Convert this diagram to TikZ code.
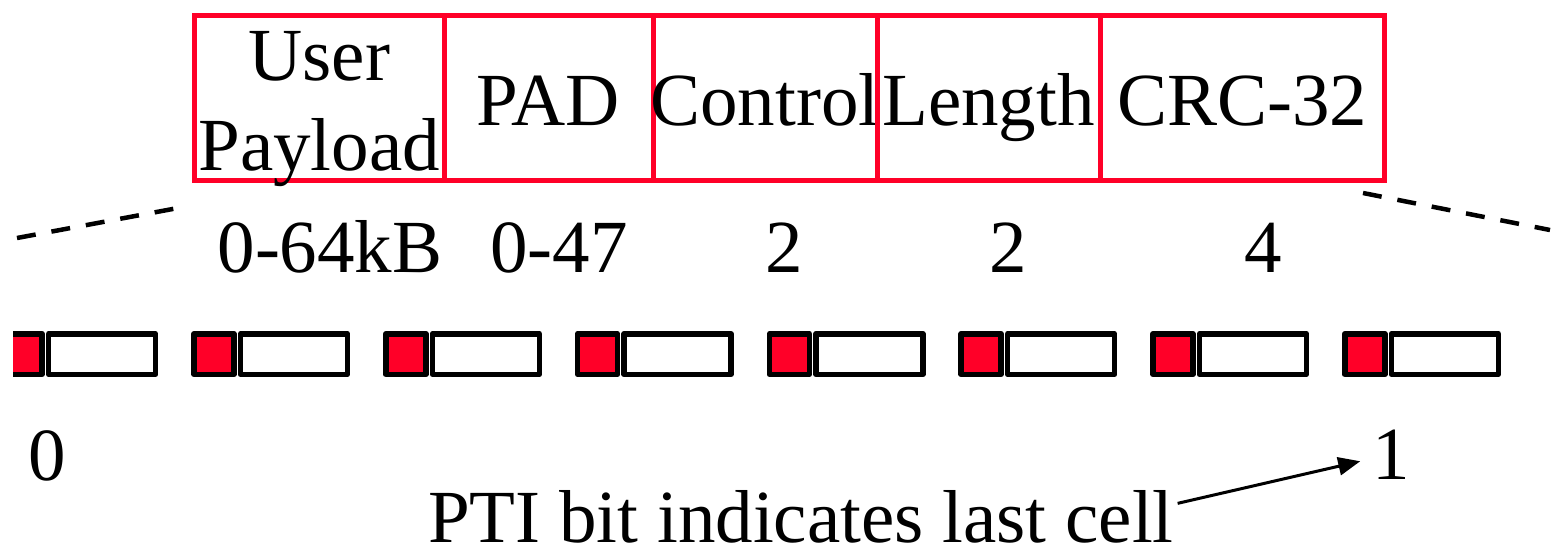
\documentclass[tikz,border=0pt]{standalone}
\usepackage{fontspec}
\setmainfont{Liberation Serif}
\usetikzlibrary{arrows.meta}
\definecolor{ptired}{RGB}{255,0,40}
\begin{document}
\begin{tikzpicture}[x=1pt,y=-1pt,
  every node/.style={inner sep=0pt, outer sep=0pt, font=\fontsize{75}{90}\selectfont},
  field/.style={draw=ptired, line width=5pt, minimum height=165pt, text height=54pt, text depth=0pt},
  ptibit/.style={draw=black, fill=ptired, line width=5.5pt, line join=round, minimum width=40pt, minimum height=40.5pt},
  cellbody/.style={draw=black, fill=white, line width=5.5pt, line join=round, minimum width=107pt, minimum height=40.5pt},
  numtext/.style={anchor=base},
  dashline/.style={line width=4.5pt, dash pattern=on 19pt off 16pt},
  ptiarrow/.style={line width=3pt, -{Triangle[length=22pt,width=18pt]}}
]
\fill[white] (0,0) rectangle (1561,550);
\useasboundingbox (0,0) rectangle (1561,550);

% frame fields
\node[field, minimum width=249.5pt, align=center, text height=144pt] (up) at (319.25,98) {User\\Payload};
\node[field, minimum width=209pt] (pad) at (548.5,98) {\makebox[0pt]{PAD}};
\node[field, minimum width=224pt] (ctl) at (765,98) {\makebox[0pt]{Control}};
\node[field, minimum width=223pt] (len) at (988.5,98) {\makebox[0pt]{Length}};
\node[field, minimum width=284.5pt] (crc) at (1242.25,98) {\makebox[0pt]{CRC-32}};

% sizes
\node[numtext] (szup) at (330,272) {0-64kB};
\node[numtext] (szpad) at (559,272) {0-47};
\node[numtext] (szctl) at (784,272) {2};
\node[numtext] (szlen) at (1008,272) {2};
\node[numtext] (szcrc) at (1263,272) {4};

% dashed expansion lines
\coordinate (dla) at (17,238);
\coordinate (dlb) at (178,208);
\coordinate (dra) at (1363,193);
\coordinate (drb) at (1550,230);
\draw[dashline] (dla) -- (dlb);
\draw[dashline] (dra) -- (drb);

% cells
\begin{scope}
\clip (13,0) rectangle (1561,550);
\foreach \k in {0,...,7} {
  \pgfmathsetmacro\xo{-0.6+191.8*\k}
  \node[ptibit] (b\k) at (\xo+22.75,354) {};
  \node[cellbody] (w\k) at (\xo+102.75,354) {};
}
\end{scope}

% PTI values
\node[numtext] (zero) at (47,480) {0};
\node[numtext] (one) at (1391,479) {1};
\node[anchor=base west] (pti) at (428,542) {PTI bit indicates last cell};
\draw[ptiarrow] ([shift={(4,-13)}]pti.east) -- ([shift={(-12,7)}]one.west);
\end{tikzpicture}
\end{document}
